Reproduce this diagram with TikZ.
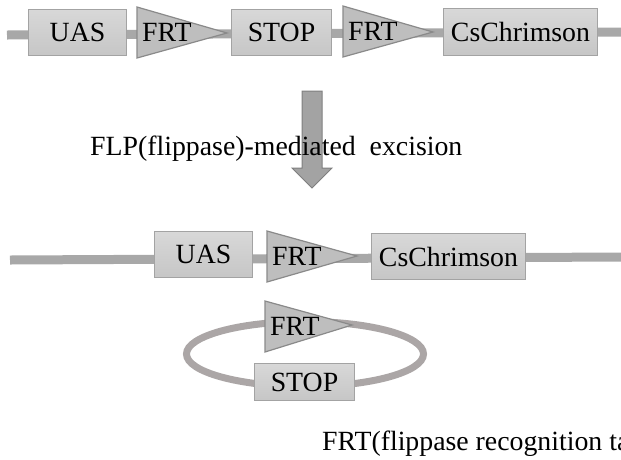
\documentclass[tikz,border=0pt]{standalone}
\usepackage{fontspec}
\setmainfont{Liberation Serif}
\definecolor{boxtop}{HTML}{D8D8D8}
\definecolor{boxbot}{HTML}{C6C6C6}
\definecolor{boxline}{HTML}{A3A3A3}
\definecolor{trifill}{HTML}{BEBEBE}
\definecolor{triline}{HTML}{8A8A8A}
\definecolor{dnacol}{HTML}{A8A8A8}
\definecolor{loopcol}{HTML}{ABA6A6}
\definecolor{arrfill}{HTML}{A3A3A3}
\definecolor{arrline}{HTML}{7F7F7F}
\newcommand{\bigtext}{\fontsize{27.8}{30}\selectfont}
\begin{document}
\begin{tikzpicture}[x=1pt,y=-1pt,
  gene/.style={draw=boxline, line width=1pt, top color=boxtop, bottom color=boxbot,
    inner sep=0pt, anchor=north west, font=\bigtext, text=black},
  tri/.style={draw=triline, fill=trifill, line width=1.2pt, line join=miter},
  trilabel/.style={anchor=base west, inner sep=0pt, font=\bigtext},
  dna/.style={draw=dnacol, line width=9pt},
  loopdna/.style={draw=loopcol, line width=7pt},
  caption/.style={anchor=base west, inner sep=0pt, font=\bigtext}]
\useasboundingbox (0,0) rectangle (621,459);

% ---------- top construct ----------
\coordinate (tl) at (7,35);
\coordinate (tr) at (621,32);
\draw[dna] (tl) -- (tr);
\node[gene, minimum width=98pt, minimum height=46pt] (uas1) at (28,9) {UAS};
\draw[tri] (137,7) -- (137,58) -- (227,33) -- cycle;
\node[trilabel] (frt1) at (142,41) {FRT};
\node[gene, minimum width=100pt, minimum height=46pt] (stop1) at (231,9) {STOP};
\draw[tri] (343,6) -- (343,57) -- (433,32) -- cycle;
\node[trilabel] (frt2) at (348,40) {FRT};
\node[gene, minimum width=154pt, minimum height=47pt] (cs1) at (443,8) {CsChrimson};

% ---------- arrow and caption ----------
\draw[draw=arrline, fill=arrfill, line width=1pt, line join=miter]
  (302,91) -- (322,91) -- (322,168) -- (332,168) -- (312,188) -- (292,168) -- (302,168) -- cycle;
\node[caption] (flp) at (90,155) {FLP(flippase)-mediated\ \ excision};

% ---------- bottom construct ----------
\coordinate (bl) at (10,260);
\coordinate (br) at (621,257);
\draw[dna] (bl) -- (br);
\node[gene, minimum width=98pt, minimum height=46pt] (uas2) at (154,231) {UAS};
\draw[tri] (267,231) -- (267,282) -- (357,256) -- cycle;
\node[trilabel] (frt3) at (272,265) {FRT};
\node[gene, minimum width=154pt, minimum height=46pt] (cs2) at (371,233) {CsChrimson};

% ---------- excised circle ----------
\draw[loopdna] (305,354) ellipse [x radius=118.5pt, y radius=32.5pt];
\draw[tri] (265,301) -- (265,352) -- (352,325) -- cycle;
\node[trilabel] (frt4) at (270,335) {FRT};
\node[gene, minimum width=100pt, minimum height=37pt] (stop2) at (254,363) {STOP};

% ---------- bottom caption (cut off at the right edge, as in the reference) ----------
\node[caption] (frtcap) at (322,450) {FRT(flippase recognition ta};
\end{tikzpicture}
\end{document}
